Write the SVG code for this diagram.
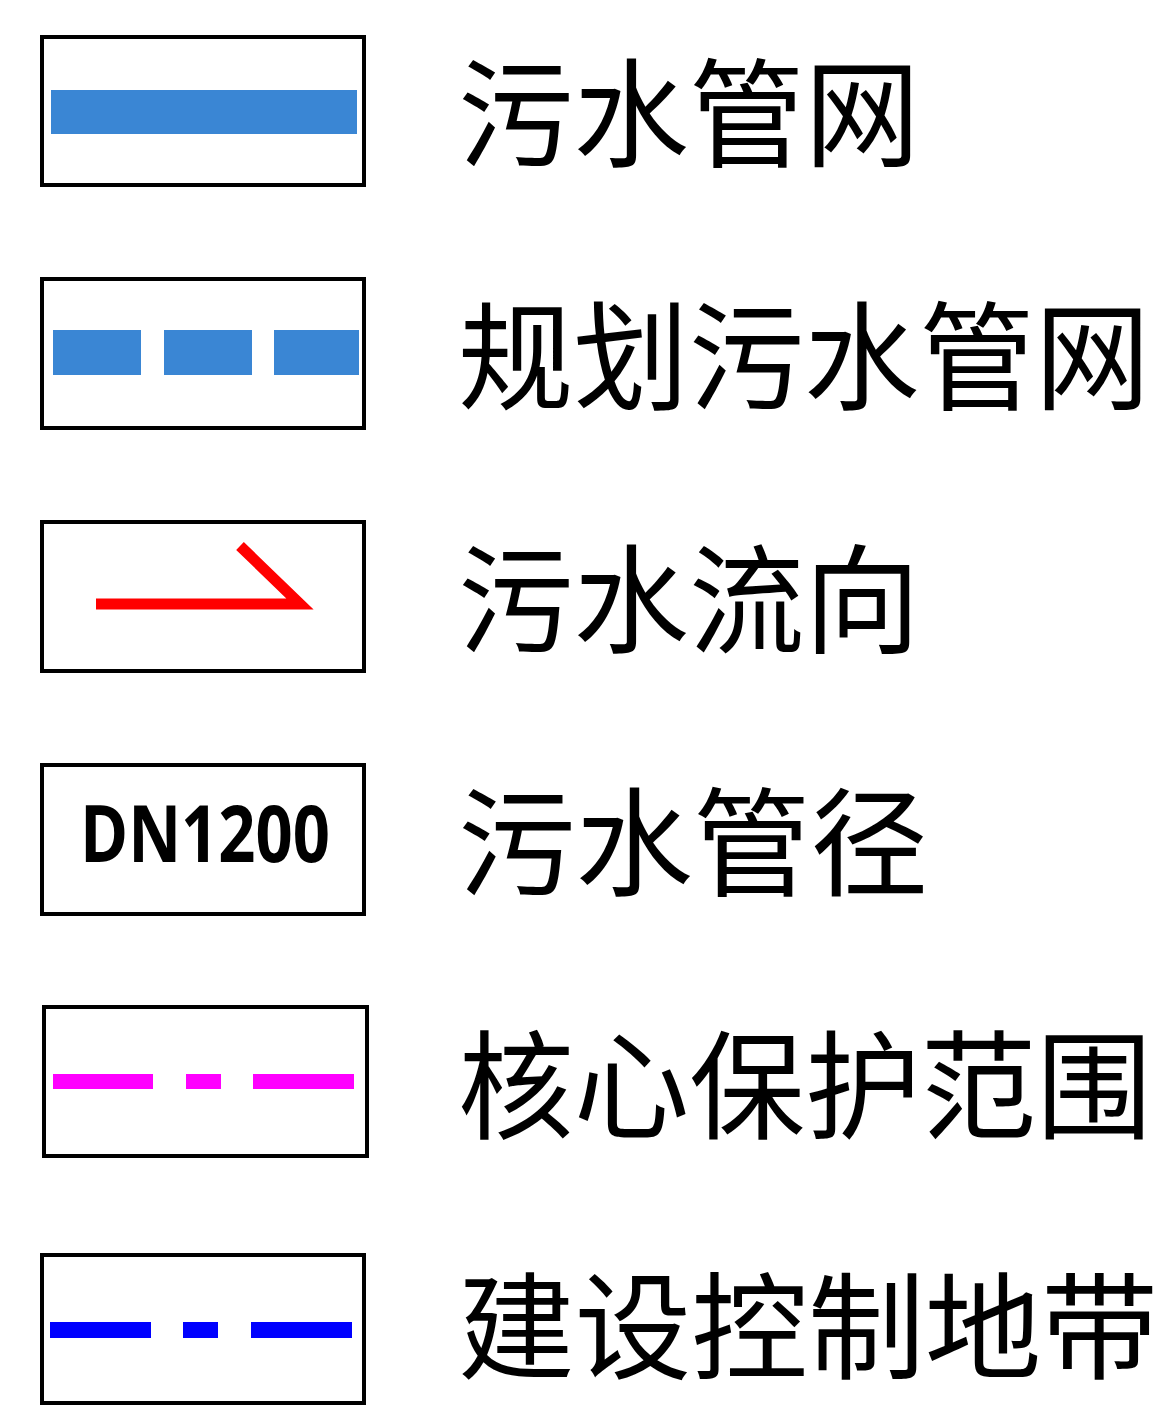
<svg xmlns="http://www.w3.org/2000/svg" width="1168" height="1405" viewBox="0 0 1168 1405">
<style>
.box{fill:#fff;stroke:#000;stroke-width:4}
.lbl{font-family:"Noto Sans CJK SC","Noto Sans",sans-serif;font-size:118px;fill:#000}
.dn{font-family:"Open Sans","Liberation Sans",sans-serif;font-weight:bold;font-size:78px;fill:#000}
</style>
<rect width="1168" height="1405" fill="#fff"/>
<g id="row1">
<rect class="box" x="42" y="37" width="322" height="148"/>
<rect x="51" y="90" width="306" height="44" fill="#3A86D4"/>
<text class="lbl" x="458" y="158" textLength="462" lengthAdjust="spacingAndGlyphs">污水管网</text>
</g>
<g id="row2">
<rect class="box" x="42" y="279" width="322" height="149"/>
<rect x="53" y="330" width="88" height="45" fill="#3A86D4"/>
<rect x="164" y="330" width="88" height="45" fill="#3A86D4"/>
<rect x="274" y="330" width="85" height="45" fill="#3A86D4"/>
<text class="lbl" x="458" y="401" textLength="692" lengthAdjust="spacingAndGlyphs">规划污水管网</text>
</g>
<g id="row3">
<rect class="box" x="42" y="522" width="322" height="149"/>
<polyline points="96,604 300,604 240,546" fill="none" stroke="#FF0000" stroke-width="11" stroke-linejoin="miter" stroke-miterlimit="10"/>
<text class="lbl" x="458" y="644" textLength="462" lengthAdjust="spacingAndGlyphs">污水流向</text>
</g>
<g id="row4">
<rect class="box" x="42" y="765" width="322" height="149"/>
<text class="dn" x="80" y="862" textLength="250" lengthAdjust="spacingAndGlyphs">DN1200</text>
<text class="lbl" x="458" y="887" textLength="470" lengthAdjust="spacingAndGlyphs">污水管径</text>
</g>
<g id="row5">
<rect class="box" x="44" y="1007" width="323" height="149"/>
<rect x="53" y="1074" width="100" height="15" fill="#FF00FF"/>
<rect x="186" y="1074" width="35" height="15" fill="#FF00FF"/>
<rect x="253" y="1074" width="101" height="15" fill="#FF00FF"/>
<text class="lbl" x="458" y="1130" textLength="694" lengthAdjust="spacingAndGlyphs">核心保护范围</text>
</g>
<g id="row6">
<rect class="box" x="42" y="1255" width="322" height="148"/>
<rect x="50" y="1322" width="101" height="16" fill="#0000FF"/>
<rect x="183" y="1322" width="35" height="16" fill="#0000FF"/>
<rect x="251" y="1322" width="101" height="16" fill="#0000FF"/>
<text class="lbl" x="458" y="1370" style="font-size:116px" textLength="700" lengthAdjust="spacingAndGlyphs">建设控制地带</text>
</g>
</svg>
